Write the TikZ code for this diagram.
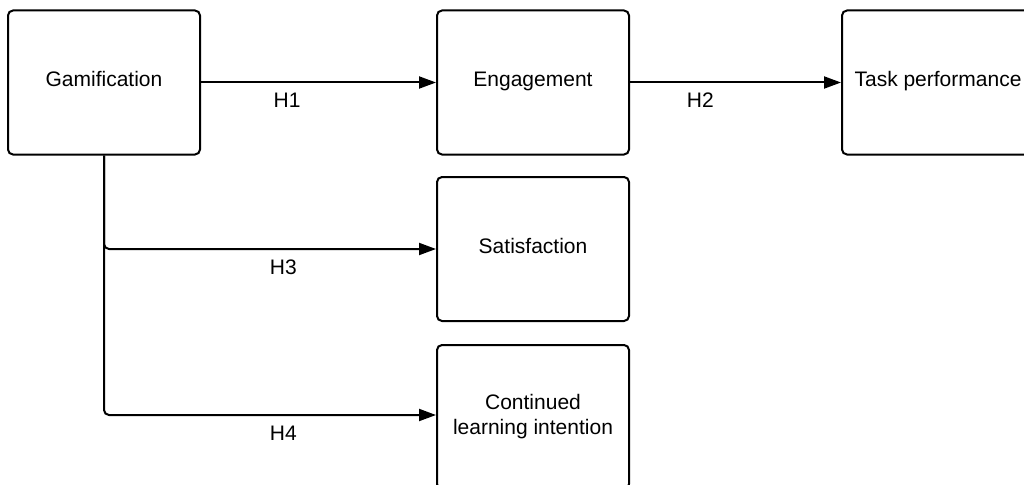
\documentclass[tikz,border=0pt]{standalone}
\usepackage{fontspec}
\setmainfont{Liberation Sans}
\usetikzlibrary{arrows.meta}
\begin{document}
\begin{tikzpicture}[x=1pt,y=-1pt,
  every node/.style={font=\fontsize{21}{25}\selectfont},
  box/.style={draw, line width=2pt, rounded corners=5pt, minimum width=192pt,
    minimum height=144pt, inner sep=0pt, text height=15pt, text depth=6pt},
  tallbox/.style={draw, line width=2pt, rounded corners=5pt, minimum width=192pt,
    minimum height=144pt, inner sep=0pt, align=center},
  link/.style={line width=2pt, -{Triangle[length=17pt,width=12pt]}},
  hyp/.style={anchor=base, yshift=-25pt}]
  \useasboundingbox (0,0) rectangle (1024,484);

  % constructs
  \node[box] (gam)  at (104,82.5) {Gamification};
  \node[box] (eng)  at (533,82.5) {Engagement};
  \node[box] (task) at (938,82.5) {Task performance};
  \node[box] (sat)  at (533,249) {Satisfaction};
  \node[tallbox] (cont) at (533,417) {Continued\\learning intention};

  % hypothesised paths
  \draw[link] (gam.east) -- node[pos=0.366, hyp] (h1) {H1} (eng.west);
  \draw[link] (eng.east) -- node[pos=0.333, hyp] (h2) {H2} (task.west);
  \draw[link, rounded corners=5pt] (gam.south) |- node[pos=0.77, hyp] (h3) {H3} (sat.west);
  \draw[link, rounded corners=5pt] (gam.south) |- node[pos=0.77, hyp] (h4) {H4} ([yshift=2pt]cont.west);
\end{tikzpicture}
\end{document}
